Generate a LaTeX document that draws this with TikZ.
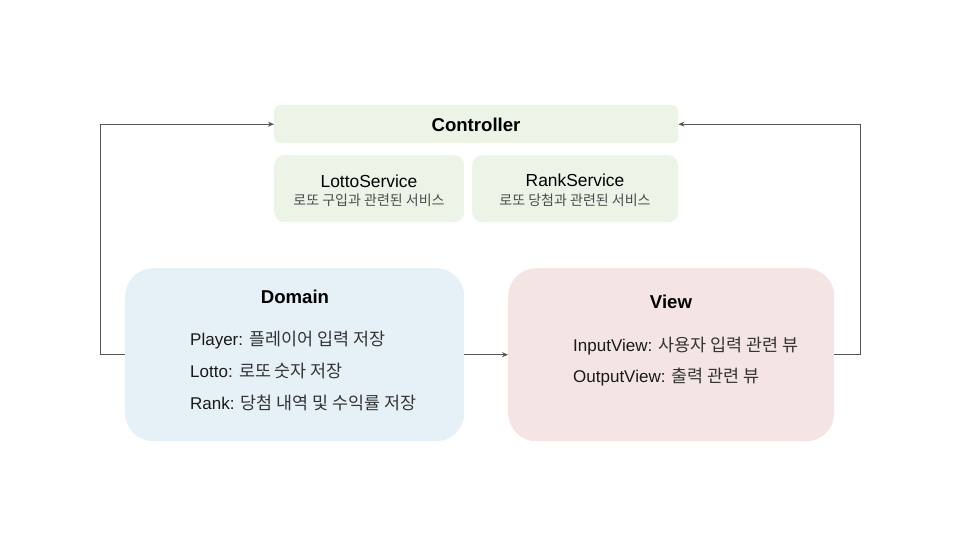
\documentclass[tikz,border=0pt]{standalone}
\usepackage{fontspec}
\setmainfont{Liberation Sans}
\newfontfamily\kor{Noto Sans CJK KR}
\usetikzlibrary{positioning, calc, arrows.meta}
\definecolor{verdecito}{RGB}{236,244,232}
\definecolor{azulcito}{RGB}{230,241,247}
\definecolor{rosita}{RGB}{245,228,228}
\definecolor{flecha}{RGB}{85,85,85}
\tikzset{>={Stealth[length=6pt,width=5pt]}}
\tikzset{
  caja/.style={rectangle, inner sep=0pt, anchor=north west},
  flechita/.style={->, draw=flecha, line width=0.8pt},
  titulo/.style={font=\fontsize{18.6}{22}\selectfont\bfseries},
  texto/.style={font=\fontsize{17}{20}\selectfont, anchor=west, inner sep=0pt, text=black!90},
  svc/.style={font=\fontsize{17.4}{20}\selectfont},
  sub/.style={font=\kor\fontsize{14}{16}\selectfont, text=black!70}
}
\newcommand{\ko}[1]{{\kor\fontsize{17.4}{20}\selectfont\color{black!80}#1}}

\begin{document}
\begin{tikzpicture}[x=1pt, y=-1pt]
	\useasboundingbox (0,0) rectangle (960,540);
	
	% controller
	\node [caja, fill=verdecito, rounded corners=6pt, minimum width=404pt, minimum height=38pt] (ctrl) at (274,105) {};
	\node [titulo] (ctrltxt) at (476,125) {Controller};
	
	\node [caja, fill=verdecito, rounded corners=10pt, minimum width=190pt, minimum height=67pt] (lotto) at (274,155) {};
	\node [svc] (lottotxt) at (369,181) {LottoService};
	\node [sub] (lottosub) at (369,200) {로또 구입과 관련된 서비스};
	
	\node [caja, fill=verdecito, rounded corners=10pt, minimum width=206pt, minimum height=67pt] (rank) at (472,155) {};
	\node [svc] (ranktxt) at (575,180) {RankService};
	\node [sub] (ranksub) at (575,200) {로또 당첨과 관련된 서비스};
	
	% domain
	\node [caja, fill=azulcito, rounded corners=28pt, minimum width=339pt, minimum height=173pt] (domain) at (125,268) {};
	\node [titulo] (domtxt) at (295,297) {Domain};
	\node [texto] (player) at (190,340) {Player: \ko{플레이어 입력 저장}};
	\node [texto] (lottoline) at (190,371) {Lotto: \ko{로또 숫자 저장}};
	\node [texto] (rankline) at (190,403) {Rank: \ko{당첨 내역 및 수익률 저장}};
	
	% view
	\node [caja, fill=rosita, rounded corners=28pt, minimum width=326pt, minimum height=173pt] (view) at (508,268) {};
	\node [titulo] (viewtxt) at (671,302) {View};
	\node [texto] (inview) at (573,346) {InputView: \ko{사용자 입력 관련 뷰}};
	\node [texto] (outview) at (573,377) {OutputView: \ko{출력 관련 뷰}};
	
	% flechas
	\draw [flechita] (domain.west) -- ++(-25,0) |- (ctrl.west);
	\draw [flechita] (view.east) -- ++(26,0) |- (ctrl.east);
	\draw [flechita] (domain.east) -- (view.west);
\end{tikzpicture}
\end{document}
